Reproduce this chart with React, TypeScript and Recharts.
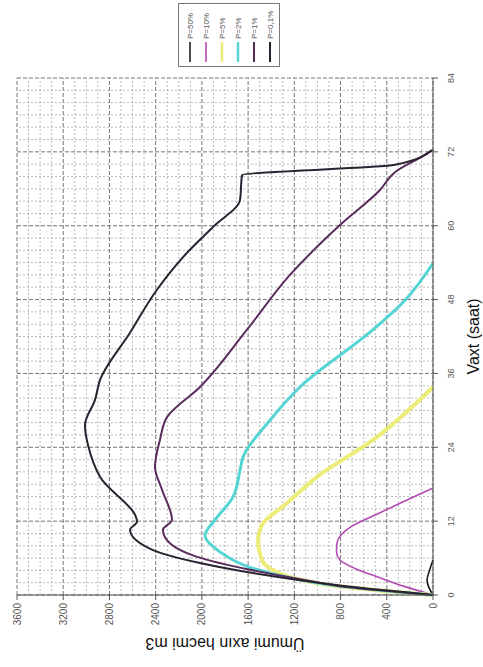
import React from 'react';
import { LineChart, Line, XAxis, YAxis, CartesianGrid, Legend, ReferenceLine } from 'recharts';

// Time axis (hours)
const timeTicks = [0, 12, 24, 36, 48, 60, 72, 84];
const timeMinorTicks = [2, 4, 6, 8, 10, 14, 16, 18, 20, 22, 26, 28, 30, 32, 34, 38, 40, 42, 44, 46, 50, 52, 54, 56, 58, 62, 64, 66, 68, 70, 74, 76, 78, 80, 82];

// Volume axis (m3)
const volumeTicks = [0, 400, 800, 1200, 1600, 2000, 2400, 2800, 3200, 3600];
const volumeMinorTicks = [100, 200, 300, 500, 600, 700, 900, 1000, 1100, 1300, 1400, 1500, 1700, 1800, 1900, 2100, 2200, 2300, 2500, 2600, 2700, 2900, 3000, 3100, 3300, 3400, 3500];

const seriesNames = ['P=50%', 'P=10%', 'P=5%', 'P=2%', 'P=1%', 'P=0,1%'];
const seriesColors = ['#111111', '#b44ab4', '#ecec78', '#55d4d4', '#5a2c5c', '#2a2230'];
const seriesWidths = [1.5, 1.6, 4, 3, 2, 2];

const hydro50 = [
  { t: 0, v: 0 }, { t: 1.2, v: 35 }, { t: 2.4, v: 52 }, { t: 4, v: 30 }, { t: 5.7, v: 0 },
];
const hydro10 = [
  { t: 0, v: 0 }, { t: 1.4, v: 250 }, { t: 2.8, v: 459 }, { t: 4.2, v: 660 }, { t: 5.7, v: 805 },
  { t: 7, v: 835 }, { t: 8.4, v: 831 }, { t: 11, v: 718 }, { t: 13, v: 500 }, { t: 14.9, v: 286 },
  { t: 17.4, v: 0 },
];
const hydro5 = [
  { t: 0, v: 0 }, { t: 1.6, v: 891 }, { t: 2.9, v: 1238 }, { t: 4.2, v: 1400 }, { t: 5.7, v: 1480 },
  { t: 8.9, v: 1514 }, { t: 11.4, v: 1480 }, { t: 15, v: 1260 }, { t: 19.2, v: 1004 },
  { t: 25.2, v: 519 }, { t: 33.8, v: 0 },
];
const hydro2 = [
  { t: 0, v: 0 }, { t: 1.4, v: 800 }, { t: 2.8, v: 1238 }, { t: 4.5, v: 1584 }, { t: 7, v: 1843 },
  { t: 9.7, v: 1973 }, { t: 12.2, v: 1887 }, { t: 15.9, v: 1731 }, { t: 20.3, v: 1670 },
  { t: 22.4, v: 1644 }, { t: 28.4, v: 1411 }, { t: 33.8, v: 1151 }, { t: 43.1, v: 519 },
  { t: 47.9, v: 242 }, { t: 53.9, v: 0 },
];
const hydro1 = [
  { t: 0, v: 0 }, { t: 1.2, v: 700 }, { t: 2.4, v: 1100 }, { t: 4.1, v: 1584 }, { t: 6.2, v: 2042 },
  { t: 8.9, v: 2302 }, { t: 10.6, v: 2337 }, { t: 12.2, v: 2259 }, { t: 17.1, v: 2345 },
  { t: 20.8, v: 2406 }, { t: 25.2, v: 2363 }, { t: 28.9, v: 2302 }, { t: 33.8, v: 2016 },
  { t: 43.1, v: 1610 }, { t: 52, v: 1238 }, { t: 60.1, v: 805 }, { t: 65.8, v: 459 },
  { t: 68.7, v: 329 }, { t: 71.5, v: 69 }, { t: 72.3, v: 0 },
];
const hydro01 = [
  { t: 0, v: 0 }, { t: 1.2, v: 650 }, { t: 2.4, v: 1151 }, { t: 5.2, v: 2016 }, { t: 7.3, v: 2423 },
  { t: 10.6, v: 2622 }, { t: 11.9, v: 2562 }, { t: 19.2, v: 2882 }, { t: 24.4, v: 2986 },
  { t: 27.6, v: 3012 }, { t: 31.7, v: 2925 }, { t: 34.9, v: 2882 }, { t: 42.6, v: 2622 },
  { t: 49.6, v: 2389 }, { t: 55.6, v: 2129 }, { t: 59.8, v: 1904 }, { t: 64.2, v: 1670 },
  { t: 68.2, v: 1653 }, { t: 69.9, v: 329 }, { t: 72.3, v: 9 },
];

const allSeries = [hydro50, hydro10, hydro5, hydro2, hydro1, hydro01];

const FONT = '"Liberation Sans", Arial, sans-serif';

function LegendBox() {
  return (
    <div
      style={{
        border: '1px solid #777',
        background: '#fff',
        padding: '3px 4px',
        fontFamily: FONT,
        fontSize: 8,
        color: '#555',
        boxSizing: 'border-box',
        height: 102,
      }}
    >
      {seriesNames.map((name, i) => (
        <div key={name} style={{ display: 'flex', alignItems: 'center', height: 16 }}>
          <svg width={20} height={6} style={{ marginRight: 3, flexShrink: 0 }}>
            <line x1={0} y1={3} x2={20} y2={3} stroke={seriesColors[i]} strokeWidth={Math.min(seriesWidths[i], 2.5)} />
          </svg>
          <span style={{ whiteSpace: 'nowrap' }}>{name}</span>
        </div>
      ))}
    </div>
  );
}

export default function App() {
  return (
    <div
      style={{
        position: 'absolute',
        left: 0,
        top: 0,
        width: 667,
        height: 483,
        background: '#fff',
        transformOrigin: '0 0',
        transform: 'translate(0px, 667px) rotate(-90deg)',
      }}
    >
      <LineChart width={667} height={483} margin={{ top: 17, right: 78, bottom: 0, left: 0 }}>
        <CartesianGrid stroke="#666" strokeWidth={0.9} strokeDasharray="4 2" />
        {timeMinorTicks.map((t) => (
          <ReferenceLine key={`t${t}`} x={t} stroke="#a8a8a8" strokeWidth={0.8} strokeDasharray="2 2" />
        ))}
        {volumeMinorTicks.map((v) => (
          <ReferenceLine key={`v${v}`} y={v} stroke="#a8a8a8" strokeWidth={0.8} strokeDasharray="2 2" />
        ))}
        <XAxis
          type="number"
          dataKey="t"
          domain={[0, 84]}
          ticks={timeTicks}
          interval={0}
          height={50}
          stroke="#555"
          tickSize={5}
          tickMargin={10}
          tick={{ fontSize: 9, fill: '#555', fontFamily: FONT }}
          label={{
            value: 'Vaxt (saat)',
            position: 'insideBottom',
            offset: 4,
            style: { fontSize: 16, fill: '#111', fontFamily: FONT },
          }}
        />
        <YAxis
          type="number"
          domain={[0, 3600]}
          ticks={volumeTicks}
          interval={0}
          width={72}
          stroke="#555"
          tickSize={5}
          tickMargin={3}
          tick={{ fontSize: 10, fill: '#555', fontFamily: FONT }}
          label={{
            value: 'Ümumi axın həcmi m3',
            angle: -90,
            position: 'insideLeft',
            offset: 23,
            style: { fontSize: 16, fill: '#111', fontFamily: FONT, textAnchor: 'middle' },
          }}
        />
        <Legend
          layout="vertical"
          align="center"
          verticalAlign="middle"
          content={() => <LegendBox />}
          wrapperStyle={{ left: 600, top: 178, width: 64, height: 102 }}
        />
        {allSeries.map((data, i) => (
          <Line
            key={seriesNames[i]}
            data={data}
            dataKey="v"
            name={seriesNames[i]}
            type="monotone"
            stroke={seriesColors[i]}
            strokeWidth={seriesWidths[i]}
            dot={false}
            isAnimationActive={false}
          />
        ))}
      </LineChart>
    </div>
  );
}
